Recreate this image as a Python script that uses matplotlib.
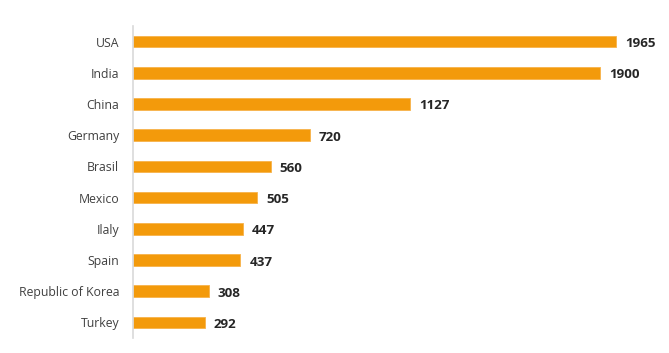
import matplotlib
matplotlib.use("Agg")
import matplotlib.pyplot as plt

countries = ["USA", "India", "China", "Germany", "Brasil", "Mexico", "Ilaly", "Spain",
             "Republic of Korea", "Turkey"]
values = [1965, 1900, 1127, 720, 560, 505, 447, 437, 308, 292]

plt.rcParams['font.family'] = ['Open Sans', 'DejaVu Sans']

fig = plt.figure(figsize=(6.69, 3.53), dpi=100)
ax = fig.add_axes([133/669, 15/353, 1 - 133/669, 312/353])

ypos = list(range(len(countries)))
ax.barh(ypos, values, height=0.37, color="#F39A0B", edgecolor="#F7B24A", linewidth=0.6)
ax.set_ylim(len(countries) - 0.5, -0.5)
ax.set_xlim(0, 536 / (483 / 1965))

ax.set_yticks(ypos)
ax.set_yticklabels(countries, fontsize=8.8, color="#404040")
ax.tick_params(axis="y", length=0, pad=10)
ax.set_xticks([])

for s in ["top", "right", "bottom"]:
    ax.spines[s].set_visible(False)
ax.spines["left"].set_color("#d9d9d9")
ax.spines["left"].set_linewidth(1.2)

for y, v in zip(ypos, values):
    ax.annotate(str(v), (v, y), xytext=(9, -2), textcoords="offset pixels",
                va="center", ha="left", fontsize=9.6, fontweight="bold", color="#262626")

fig.savefig("out.png", dpi=100)
